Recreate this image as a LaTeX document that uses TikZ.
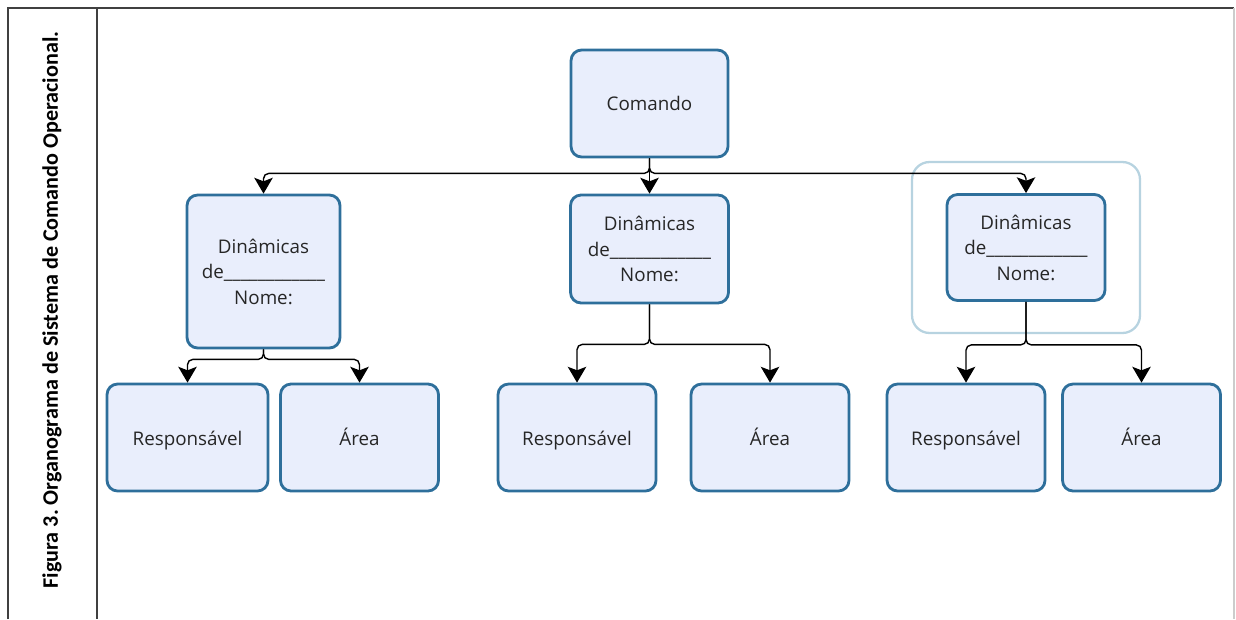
\documentclass[tikz,border=0pt]{standalone}
\usepackage{fontspec}
\setmainfont{Open Sans}
\newfontfamily\legendafont{Carlito}
\usetikzlibrary{arrows.meta}

\definecolor{caixafundo}{HTML}{E9EEFC}
\definecolor{caixaborda}{HTML}{2E6F9B}
\definecolor{realce}{HTML}{B7D3E0}

\begin{document}
\frenchspacing
\begin{tikzpicture}[
    x=0.02cm, y=-0.02cm,
    caixa/.style={rectangle, draw=caixaborda, line width=1.6pt, fill=caixafundo, rounded corners=6pt, align=center, text=black!85, font=\fontsize{10.7}{14.5}\selectfont},
    chefe/.style={caixa, minimum width=3.14cm, minimum height=2.14cm},
    equipe/.style={caixa, minimum width=3.16cm, minimum height=2.12cm},
    membro/.style={caixa, minimum width=3.16cm, minimum height=2.14cm, text height=2.3ex, text depth=0.6ex},
    destaque/.style={rectangle, draw=realce, line width=1.3pt, rounded corners=10pt, minimum width=4.56cm, minimum height=3.42cm},
    seta/.style={-{Stealth[length=9pt, width=10.5pt, inset=2pt]}, line width=0.8pt, black, rounded corners=3pt}
]
\useasboundingbox (0,0) rectangle (1236,619);

% Moldura e legenda
\draw[black!75, line width=0.8pt] (8,619) -- (8,8) -- (1234,8);
\draw[black!75, line width=0.8pt] (97,8) -- (97,619);
\draw[black!20, line width=0.8pt] (1234,8) -- (1234,619);
\node[rotate=90, font=\legendafont\bfseries\fontsize{12.6}{15}\selectfont] (legenda) at (52,310) {Figura 3. Organograma de Sistema de Comando Operacional.};

% Comando e equipes
\node[destaque] (grupo) at (1026,247.5) {};
\node[chefe] (comando) at (649.5,103.5) {Comando};
\node[equipe, minimum width=3.06cm, minimum height=3.06cm] (dinA) at (263.5,271.5) {Dinâmicas\\de\_\_\_\_\_\_\_\_\_\_\_\_\\Nome:};
\node[equipe, minimum height=2.16cm] (dinB) at (649.5,249) {Dinâmicas\\de\_\_\_\_\_\_\_\_\_\_\_\_\\Nome:};
\node[equipe] (dinC) at (1026,247.5) {Dinâmicas\\de\_\_\_\_\_\_\_\_\_\_\_\_\\Nome:};

% Responsável e área de cada equipe
\node[membro, minimum width=3.22cm] (respA) at (187.5,437.5) {Responsável};
\node[membro] (areaA) at (359.5,437.5) {Área};
\node[membro] (respB) at (577,437.5) {Responsável};
\node[membro] (areaB) at (770,437.5) {Área};
\node[membro] (respC) at (966,437.5) {Responsável};
\node[membro] (areaC) at (1141.5,437.5) {Área};

% Ligações
\draw[seta] (comando.south) -- ++(0,15) -| (dinA.north);
\draw[seta] (comando.south) -- (dinB.north);
\draw[seta] (comando.south) -- ++(0,15) -| (dinC.north);

\draw[seta] (dinA.south) -- ++(0,10) -| (respA.north);
\draw[seta] (dinA.south) -- ++(0,10) -| (areaA.north);
\draw[seta] (dinB.south) -- ++(0,40) -| (respB.north);
\draw[seta] (dinB.south) -- ++(0,40) -| (areaB.north);
\draw[seta] (dinC.south) -- ++(0,43) -| (respC.north);
\draw[seta] (dinC.south) -- ++(0,43) -| (areaC.north);

\end{tikzpicture}
\end{document}
